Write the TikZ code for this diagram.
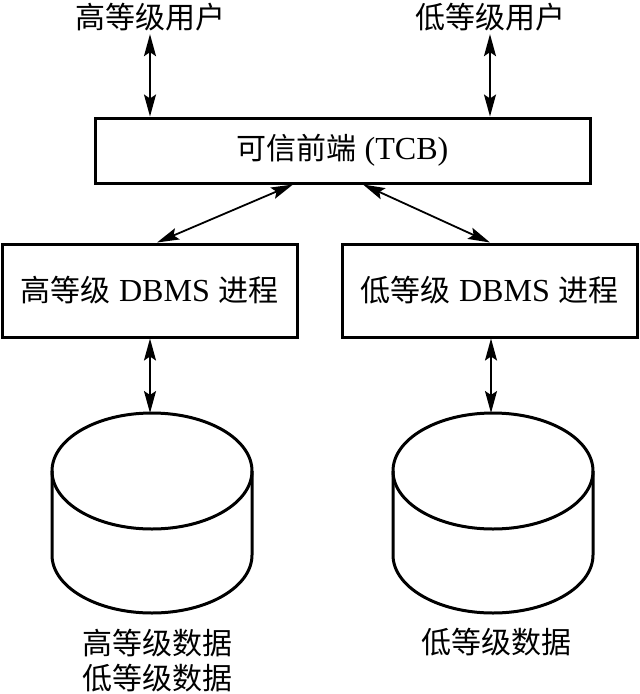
\documentclass[tikz,border=0pt]{standalone}
\usepackage{fontspec}
\setmainfont[Scale=1.07]{Liberation Serif}
\newfontfamily\cjk{Noto Sans CJK SC}
\usetikzlibrary{arrows.meta}

\begin{document}
\begin{tikzpicture}[
    x=1pt, y=1pt,
    txt/.style={font=\fontsize{30}{35}\selectfont, inner sep=3pt, align=center},
    box/.style={txt, draw, line width=3pt, minimum height=93pt, minimum width=295pt},
    link/.style={line width=1.8pt, <->, >={Stealth[length=22pt, width=12pt, inset=4pt]}},
    drum/.style={line width=3pt}
  ]
  \useasboundingbox (0,0) rectangle (640,-694);
  % users
  \node[txt] (hu) at (150,-17) {\cjk 高等级用户};
  \node[txt] (lu) at (490,-17) {\cjk 低等级用户};
  % trusted front end
  \node[box, minimum width=495pt, minimum height=65pt] (tcb) at (342.5,-150.5) {{\cjk 可信前端} (TCB)};
  % DBMS processes
  \node[box] (hp) at (149.5,-290.5) {{\cjk 高等级} DBMS {\cjk 进程}};
  \node[box] (lp) at (489.5,-290.5) {{\cjk 低等级} DBMS {\cjk 进程}};
  % databases
  \foreach \cx/\nm in {152/hd, 493/ld} {
    \draw[drum] (\cx,-471) ellipse [x radius=100, y radius=58];
    \draw[drum] (\cx-100,-471) -- (\cx-100,-555)
      arc [start angle=180, end angle=360, x radius=100, y radius=58] -- (\cx+100,-471);
    \coordinate (\nm) at (\cx-2,-413);
  }
  \node[txt] (hdl) at (157,-661) {\cjk 高等级数据\\\cjk 低等级数据};
  \node[txt] (ldl) at (496,-642) {\cjk 低等级数据};
  % links
  \draw[link] (hu.south) -- (hu.south |- tcb.north);
  \draw[link] (lu.south) -- (lu.south |- tcb.north);
  \draw[link] ([xshift=-49.5pt]tcb.south) -- ([xshift=7.5pt]hp.north);
  \draw[link] ([xshift=20.5pt]tcb.south) -- ([xshift=0.5pt]lp.north);
  \draw[link] (hp.south -| hd) -- (hd);
  \draw[link] (lp.south -| ld) -- (ld);
\end{tikzpicture}
\end{document}
